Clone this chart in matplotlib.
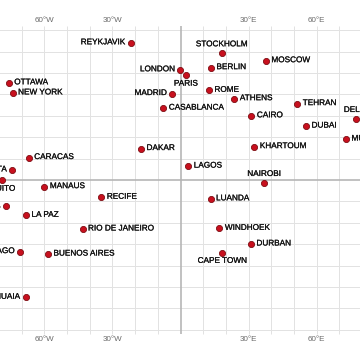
import matplotlib
matplotlib.use("Agg")
import matplotlib.pyplot as plt
import matplotlib.patheffects as pe
import numpy as np

# cities, longitude (deg E) and latitude (deg N)
cities = ["REYKJAVIK", "LONDON", "PARIS", "MADRID", "CASABLANCA", "STOCKHOLM",
          "BERLIN", "MOSCOW", "ROME", "ATHENS", "TEHRAN", "CAIRO", "DELHI",
          "DUBAI", "MUMBAI", "KHARTOUM", "LAGOS", "NAIROBI", "LUANDA",
          "WINDHOEK", "DURBAN", "CAPE TOWN", "DAKAR", "RECIFE",
          "RIO DE JANEIRO", "MANAUS", "CARACAS", "LA PAZ", "BOGOTA", "QUITO",
          "LIMA", "HAVANA", "ATLANTA", "OTTAWA", "NEW YORK", "SANTIAGO",
          "BUENOS AIRES", "USHUAIA"]
lon = [-21.9, -0.1, 2.35, -3.7, -7.6, 18.1,
       13.4, 37.6, 12.5, 23.7, 51.4, 31.2, 77.2,
       55.3, 72.9, 32.5, 3.4, 36.8, 13.2,
       17.1, 31.0, 18.4, -17.4, -34.9,
       -43.2, -60.0, -66.9, -68.1, -74.1, -78.5,
       -77.0, -82.4, -84.4, -75.7, -74.0, -70.65,
       -58.4, -68.3]
lat = [64.1, 51.5, 48.9, 40.4, 33.6, 59.3,
       52.5, 55.75, 41.9, 38.0, 35.7, 30.0, 28.6,
       25.2, 19.1, 15.6, 6.5, -1.3, -8.8,
       -22.6, -29.9, -33.9, 14.7, -8.05,
       -22.9, -3.1, 10.5, -16.5, 4.7, -0.2,
       -12.05, 23.1, 33.75, 45.4, 40.7, -33.45,
       -34.6, -54.8]

# where the label sits if not on the right
label_side = {"REYKJAVIK": "left", "LONDON": "left", "MADRID": "left",
              "BOGOTA": "left", "LIMA": "left", "SANTIAGO": "left",
              "USHUAIA": "left", "STOCKHOLM": "above", "NAIROBI": "above",
              "DELHI": "above", "PARIS": "below", "CAPE TOWN": "below",
              "QUITO": "below"}

tick_lons = [-60, -30, 30, 60]
tick_labels = ["60°W", "30°W", "30°E", "60°E"]

plt.rcParams['font.family'] = ['Liberation Sans', 'DejaVu Sans']

fig = plt.figure(figsize=(5, 5), dpi=72)
ax = fig.add_axes([0, 0, 1, 1])
ax.set_xlim(-79.55, 79.05)
ax.set_ylim(-84.1, 84.1)
ax.axis("off")

# graticule
for la in range(-70, 71, 10):
    if la == 0:
        continue
    ax.axhline(la, color="#e2e2e2", lw=1, zorder=1)
for lo in range(-80, 81, 10):
    if lo == 0:
        continue
    ax.vlines(lo, -72, 72, color="#e2e2e2", lw=1, zorder=1)
ax.axhline(0, color="#b4b4b4", lw=1.6, zorder=2)
ax.vlines(0, -72, 72, color="#b4b4b4", lw=1.6, zorder=2)

for lo, t in zip(tick_lons, tick_labels):
    ax.text(lo, 74.3, t, ha="center", va="center", fontsize=8, color="#6a6a6a")
    ax.text(lo, -74.3, t, ha="center", va="center", fontsize=8, color="#6a6a6a")

ax.scatter(lon, lat, s=38, color="#c8101e", edgecolor="#7a0a10", linewidth=0.8, zorder=4)

bold = [pe.withStroke(linewidth=0.2, foreground="#111111")]
for name, x, y in zip(cities, lon, lat):
    side = label_side.get(name, "right")
    if side == "right":
        off, ha, va = (5.5, 0), "left", "center"
    elif side == "left":
        off, ha, va = (-5.5, 0), "right", "center"
    elif side == "above":
        off, ha, va = (0, 8.3), "center", "center"
    else:
        off, ha, va = (0, -8.8), "center", "center"
    ax.annotate(name, (x, y), xytext=off, textcoords="offset points",
                ha=ha, va=va, fontsize=8.2, color="#111111", zorder=5,
                path_effects=bold)

fig.savefig("out.png", dpi=72)
